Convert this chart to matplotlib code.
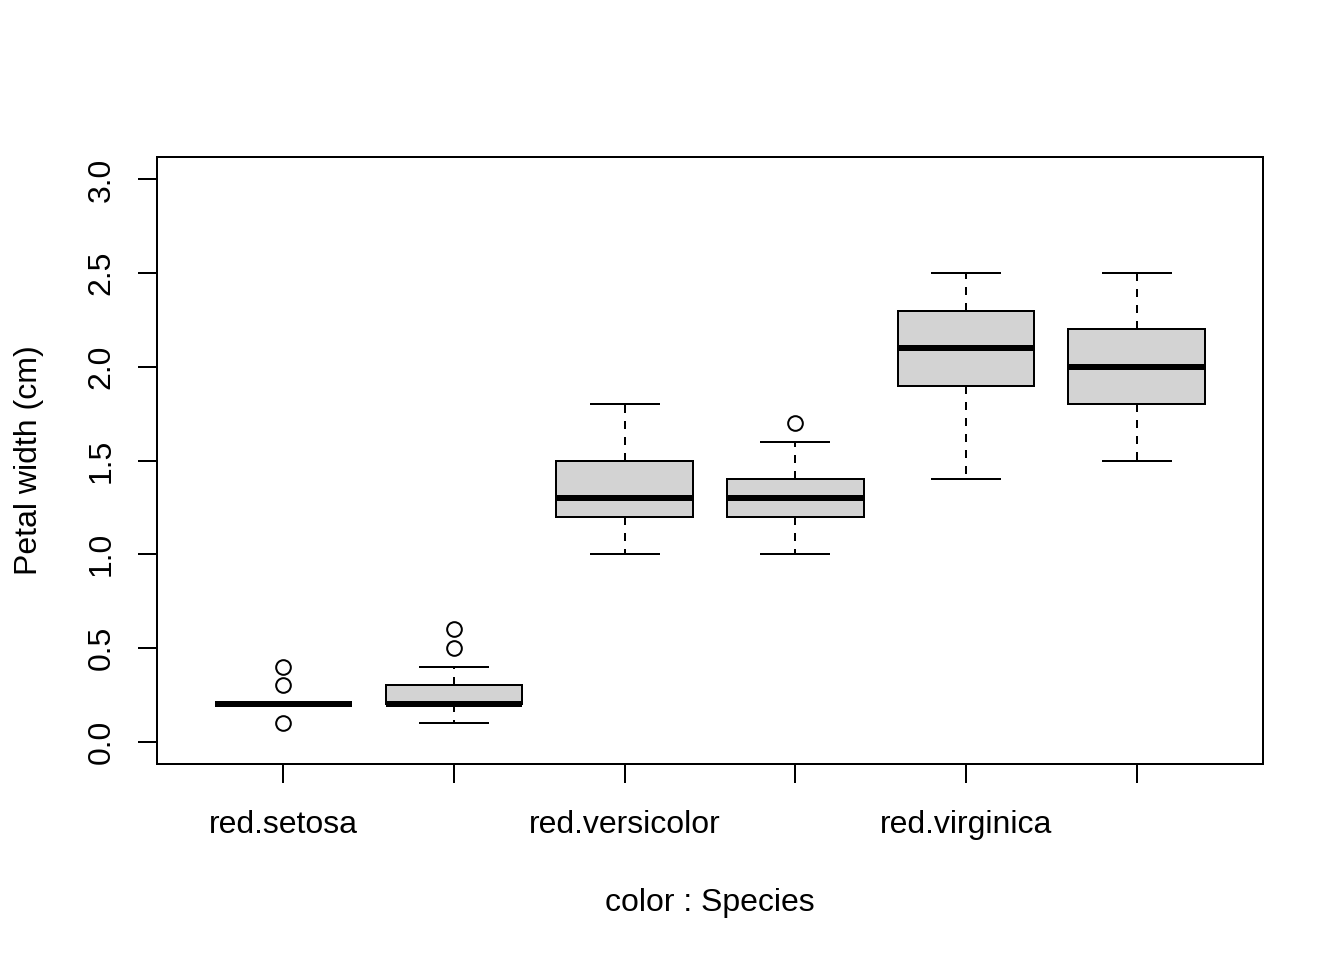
import matplotlib
matplotlib.use("Agg")
import matplotlib.pyplot as plt
import numpy as np

plt.rcParams['font.family'] = ['Liberation Sans', 'DejaVu Sans']
plt.rcParams['font.size'] = 12

# five-number summaries
labels = ['red.setosa', '', 'red.versicolor', '', 'red.virginica', '']
whislo = [0.2, 0.1, 1.0, 1.0, 1.4, 1.5]
q1 = [0.2, 0.2, 1.2, 1.2, 1.9, 1.8]
med = [0.2, 0.2, 1.3, 1.3, 2.1, 2.0]
q3 = [0.2, 0.3, 1.5, 1.4, 2.3, 2.2]
whishi = [0.2, 0.4, 1.8, 1.6, 2.5, 2.5]
fliers = [[0.1, 0.3, 0.4], [0.5, 0.6], [], [1.7], [], []]

stats = []
for i in range(len(labels)):
    stats.append(dict(whislo=whislo[i], q1=q1[i], med=med[i], q3=q3[i],
                      whishi=whishi[i], fliers=fliers[i], label=labels[i]))

fig = plt.figure(figsize=(7, 5), dpi=192)
ax = fig.add_axes([157/1344, 1-764/960, (1263-157)/1344, (764-157)/960])

lw = 0.75
pos = np.arange(1, len(labels)+1)
ax.bxp(stats, positions=pos, widths=0.8, patch_artist=True,
       boxprops=dict(facecolor='#d3d3d3', edgecolor='black', linewidth=lw),
       medianprops=dict(color='black', linewidth=2.25, solid_capstyle='butt'),
       whiskerprops=dict(color='black', linewidth=lw, linestyle=(0, (4, 4))),
       capprops=dict(color='black', linewidth=lw),
       flierprops=dict(marker='o', markerfacecolor='none', markeredgecolor='black',
                       markersize=5.5, markeredgewidth=lw),
       capwidths=0.4)

ax.set_xlim(0.26, 6.74)
ax.set_ylim(-0.12, 3.12)
ax.set_yticks(np.arange(0, 3.01, 0.5))
ax.set_yticklabels(['%.1f' % v for v in np.arange(0, 3.01, 0.5)], rotation=90, va='center')
ax.set_xticks(pos)
ax.set_xticklabels(labels)
ax.tick_params(length=7.2, width=lw, pad=10)
ax.tick_params(axis='y', pad=8)
for s in ax.spines.values():
    s.set_linewidth(lw)

ax.set_xlabel('color : Species', labelpad=18)
ax.set_ylabel('Petal width (cm)', labelpad=16)

fig.savefig('out.png', dpi=192)
